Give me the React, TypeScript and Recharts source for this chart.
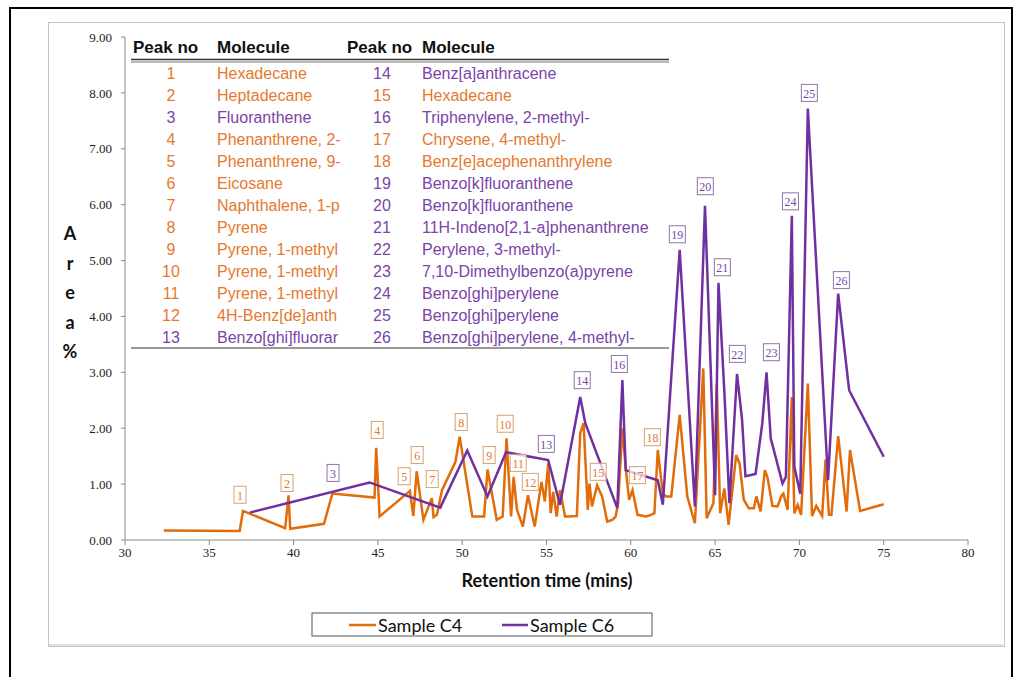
import { LineChart, Line, XAxis, YAxis, ReferenceDot } from 'recharts';

const ORANGE = '#E36C0A';
const PURPLE = '#7030A0';
const ORANGE_TEXT = '#E4792F';
const PURPLE_TEXT = '#7A44A8';

// Sample C4 trace (retention time, area %)
const c4Time = [
  32.3, 36.8, 37.0, 39.5, 39.7, 39.8, 41.8, 42.3, 44.8, 44.9, 45.1, 46.9, 47.1, 47.3, 47.7,
  48.2, 48.3, 48.5, 48.8, 49.6, 49.85, 50.6, 51.3, 51.5, 52.05, 52.4, 52.63, 52.9, 53.05, 53.25,
  53.6, 53.9, 54.3, 54.7, 54.9, 55.1, 55.25, 55.4, 55.6, 55.8, 56.1, 56.3, 56.8, 57.0, 57.2,
  57.45, 57.55, 57.7, 58.0, 58.3, 58.6, 58.9, 59.1, 59.25, 59.5, 59.7, 59.9, 60.1, 60.4, 60.9,
  61.2, 61.4, 61.6, 61.9, 62.1, 62.4, 62.9, 63.35, 63.8, 64.3, 64.5, 64.9, 65.1, 65.3, 65.55,
  65.8, 66.25, 66.45, 66.7, 67.0, 67.3, 67.45, 67.7, 67.95, 68.1, 68.4, 68.7, 68.95, 69.05, 69.3,
  69.55, 69.7, 69.9, 70.1, 70.5, 70.75, 71.0, 71.35, 71.55, 71.75, 71.9, 72.3, 72.8, 73.0, 73.6,
  75.0,
];
const c4Area = [
  0.17, 0.16, 0.52, 0.21, 0.80, 0.20, 0.29, 0.83, 0.76, 1.65, 0.42, 0.88, 0.43, 1.23, 0.36,
  0.75, 0.41, 0.45, 0.89, 1.40, 1.85, 0.42, 0.42, 1.26, 0.36, 0.42, 1.82, 0.42, 1.13, 0.54,
  0.24, 0.80, 0.24, 1.04, 0.69, 1.37, 0.48, 0.86, 0.42, 0.89, 0.42, 0.42, 0.43, 1.91, 2.09,
  0.54, 1.01, 0.60, 0.98, 0.78, 0.33, 0.36, 0.42, 0.66, 2.00, 1.28, 0.72, 0.89, 0.45, 0.42,
  0.45, 0.48, 1.61, 0.83, 0.78, 0.78, 2.24, 0.78, 0.30, 3.07, 0.39, 0.66, 2.80, 0.48, 0.92,
  0.27, 1.52, 1.37, 0.72, 0.57, 0.57, 0.78, 0.51, 1.25, 1.13, 0.61, 0.60, 0.80, 0.83, 0.54,
  2.56, 0.48, 0.63, 0.45, 2.80, 0.43, 0.61, 0.43, 1.44, 0.45, 0.45, 1.86, 0.51, 1.61, 0.52,
  0.64,
];

// Sample C6 trace
const c6Time = [
  37.4, 44.5, 48.7, 50.3, 51.5, 52.6, 55.1, 55.8, 57.0, 57.3, 59.2, 59.5, 59.7, 61.6, 61.9,
  62.9, 63.8, 64.4, 65.0, 65.2, 65.55, 65.85, 66.3, 66.6, 66.8, 67.4, 67.8, 68.05, 68.3, 69.0,
  69.2, 69.55, 69.7, 70.05, 70.5, 71.7, 72.3, 72.95, 75.0,
];
const c6Area = [
  0.49, 1.03, 0.58, 1.60, 0.78, 1.57, 1.43, 0.63, 2.56, 2.09, 0.57, 2.86, 1.25, 1.07, 0.63,
  5.19, 0.60, 5.98, 0.80, 4.60, 2.65, 0.66, 2.97, 2.15, 1.14, 1.18, 2.09, 3.00, 1.82, 1.01,
  1.13, 5.80, 1.31, 0.83, 7.72, 1.07, 4.41, 2.68, 1.49,
];

// Boxed peak numbers (placed at time / area of the label)
const peakNo = [
  1, 2, 3, 4, 5, 6, 7, 8, 9, 10, 11, 12, 13, 14, 15, 16, 17, 18, 19, 20, 21, 22, 23, 24, 25, 26,
];
const peakTime = [
  36.82, 39.61, 42.34, 44.96, 46.56, 47.33, 48.22, 49.94, 51.6, 52.55, 53.32, 54.04, 54.99,
  57.12, 58.07, 59.32, 60.39, 61.28, 62.76, 64.42, 65.43, 66.32, 68.34, 69.47, 70.59, 72.49,
];
const peakArea = [
  0.81, 1.02, 1.2, 1.97, 1.14, 1.52, 1.09, 2.11, 1.52, 2.08, 1.38, 1.04, 1.72,
  2.86, 1.22, 3.15, 1.16, 1.84, 5.47, 6.33, 4.88, 3.33, 3.36, 6.06, 8.0, 4.65,
];
const peakSeries = [
  'C4', 'C4', 'C6', 'C4', 'C4', 'C4', 'C4', 'C4', 'C4', 'C4', 'C4', 'C4', 'C6',
  'C6', 'C4', 'C6', 'C4', 'C4', 'C6', 'C6', 'C6', 'C6', 'C6', 'C6', 'C6', 'C6',
];
const molecules = [
  'Hexadecane', 'Heptadecane', 'Fluoranthene', 'Phenanthrene, 2-', 'Phenanthrene, 9-',
  'Eicosane', 'Naphthalene, 1-p', 'Pyrene', 'Pyrene, 1-methyl', 'Pyrene, 1-methyl',
  'Pyrene, 1-methyl', '4H-Benz[de]anth', 'Benzo[ghi]fluorar',
  'Benz[a]anthracene', 'Hexadecane', 'Triphenylene, 2-methyl-', 'Chrysene, 4-methyl-',
  'Benz[e]acephenanthrylene', 'Benzo[k]fluoranthene', 'Benzo[k]fluoranthene',
  '11H-Indeno[2,1-a]phenanthrene', 'Perylene, 3-methyl-', '7,10-Dimethylbenzo(a)pyrene',
  'Benzo[ghi]perylene', 'Benzo[ghi]perylene', 'Benzo[ghi]perylene, 4-methyl-',
];

const xTicks = [30, 35, 40, 45, 50, 55, 60, 65, 70, 75, 80];
const yTicks = [0, 1, 2, 3, 4, 5, 6, 7, 8, 9];
const seriesNames = ['Sample C4', 'Sample C6'];

const c4Data = c4Time.map((t, i) => ({ t, a: c4Area[i] }));
const c6Data = c6Time.map((t, i) => ({ t, a: c6Area[i] }));

const tickStyle = { fontSize: 13, fontFamily: 'Liberation Serif', fill: '#222' };
const titleFont = 'Lato, "Open Sans", sans-serif';

function PeakBox(props: any) {
  const { cx, cy, no, series } = props;
  if (cx == null || cy == null) return null;
  const w = no >= 10 ? 16 : 12;
  const h = 17;
  const isC4 = series === 'C4';
  return (
    <g>
      <rect
        x={cx - w / 2}
        y={cy - h / 2}
        width={w}
        height={h}
        fill="#fff"
        fillOpacity={0.75}
        stroke={isC4 ? '#D6A36E' : '#8C76A6'}
        strokeWidth={1}
      />
      <text
        x={cx}
        y={cy + 1}
        textAnchor="middle"
        dominantBaseline="central"
        fontSize={12}
        fontFamily="Liberation Serif"
        fill={isC4 ? ORANGE_TEXT : PURPLE_TEXT}
      >
        {no}
      </text>
    </g>
  );
}

function PeakTable() {
  const rows = 13;
  return (
    <g fontFamily="Liberation Sans, Arial, sans-serif">
      <text x={133} y={47} fontSize={17} fontWeight="bold" dominantBaseline="central" fill="#111">Peak no</text>
      <text x={217} y={47} fontSize={17} fontWeight="bold" dominantBaseline="central" fill="#111">Molecule</text>
      <text x={347} y={47} fontSize={17} fontWeight="bold" dominantBaseline="central" fill="#111">Peak no</text>
      <text x={422} y={47} fontSize={17} fontWeight="bold" dominantBaseline="central" fill="#111">Molecule</text>
      <line x1={131} x2={669} y1={59.5} y2={59.5} stroke="#333" strokeWidth={1.5} />
      <line x1={131} x2={669} y1={62} y2={62} stroke="#777" strokeWidth={1.2} />
      {peakNo.map((n, i) => {
        const col = i < rows ? 0 : 1;
        const row = i % rows;
        const y = 73 + row * 22;
        const color = peakSeries[i] === 'C4' ? ORANGE_TEXT : PURPLE_TEXT;
        return (
          <g key={n} fill={color} fontSize={16}>
            <text x={col ? 382 : 171} y={y} textAnchor="middle" dominantBaseline="central">{n}</text>
            <text x={col ? 422 : 217} y={y} dominantBaseline="central">{molecules[i]}</text>
          </g>
        );
      })}
      <line x1={131} x2={669} y1={348} y2={348} stroke="#333" strokeWidth={1.2} />
    </g>
  );
}

export default function App() {
  return (
    <div style={{ position: 'absolute', left: 0, top: 0, width: 1019, height: 677, overflow: 'hidden', background: '#fff' }}>
      <div style={{ position: 'absolute', left: 9, top: 7, width: 1000, height: 700, border: '2px solid #000' }} />
      <div style={{ position: 'absolute', left: 48, top: 22, width: 955, height: 623, border: '1px solid #c4c4c4' }} />
      <div style={{ position: 'absolute', left: 0, top: 0 }}>
        <LineChart width={1019} height={677} margin={{ top: 37, right: 51, left: 65, bottom: 107 }}>
          <XAxis
            type="number"
            dataKey="t"
            domain={[30, 80]}
            ticks={xTicks}
            height={30}
            tickSize={5}
            tickMargin={3}
            stroke="#8a8a8a"
            tick={tickStyle}
            allowDuplicatedCategory={false}
          />
          <YAxis
            type="number"
            domain={[0, 9]}
            ticks={yTicks}
            width={60}
            tickSize={4}
            tickMargin={9}
            stroke="#8a8a8a"
            tick={tickStyle}
            tickFormatter={(v: number) => v.toFixed(2)}
          />
          <Line
            data={c4Data}
            dataKey="a"
            name={seriesNames[0]}
            type="linear"
            stroke={ORANGE}
            strokeWidth={2.5}
            dot={false}
            activeDot={false}
            isAnimationActive={false}
          />
          <Line
            data={c6Data}
            dataKey="a"
            name={seriesNames[1]}
            type="linear"
            stroke={PURPLE}
            strokeWidth={2.5}
            dot={false}
            activeDot={false}
            isAnimationActive={false}
          />
          {peakNo.map((n, i) => (
            <ReferenceDot
              key={n}
              x={peakTime[i]}
              y={peakArea[i]}
              r={1}
              shape={(p: any) => <PeakBox {...p} no={n} series={peakSeries[i]} />}
            />
          ))}
        </LineChart>
      </div>
      <svg width={1019} height={677} style={{ position: 'absolute', left: 0, top: 0, pointerEvents: 'none' }}>
        <PeakTable />
        <g fontFamily={titleFont} fontWeight="bold" fontSize={18} fill="#111" textAnchor="middle">
          {['A', 'r', 'e', 'a', '%'].map((ch, i) => (
            <text key={i} x={70} y={233 + i * 29.5} dominantBaseline="central">{ch}</text>
          ))}
          <text x={547} y={580} dominantBaseline="central">Retention time (mins)</text>
        </g>
        <rect x={312} y={613} width={340} height={23} fill="none" stroke="#555" strokeWidth={1} />
        <line x1={349} x2={376} y1={625} y2={625} stroke={ORANGE} strokeWidth={2.5} />
        <text x={378} y={625} fontFamily={titleFont} fontSize={18} fill="#111" dominantBaseline="central">{seriesNames[0]}</text>
        <line x1={502} x2={528} y1={625} y2={625} stroke={PURPLE} strokeWidth={2.5} />
        <text x={530} y={625} fontFamily={titleFont} fontSize={18} fill="#111" dominantBaseline="central">{seriesNames[1]}</text>
        <line x1={48} x2={1003} y1={645} y2={645} stroke="#c4c4c4" />
      </svg>
    </div>
  );
}
